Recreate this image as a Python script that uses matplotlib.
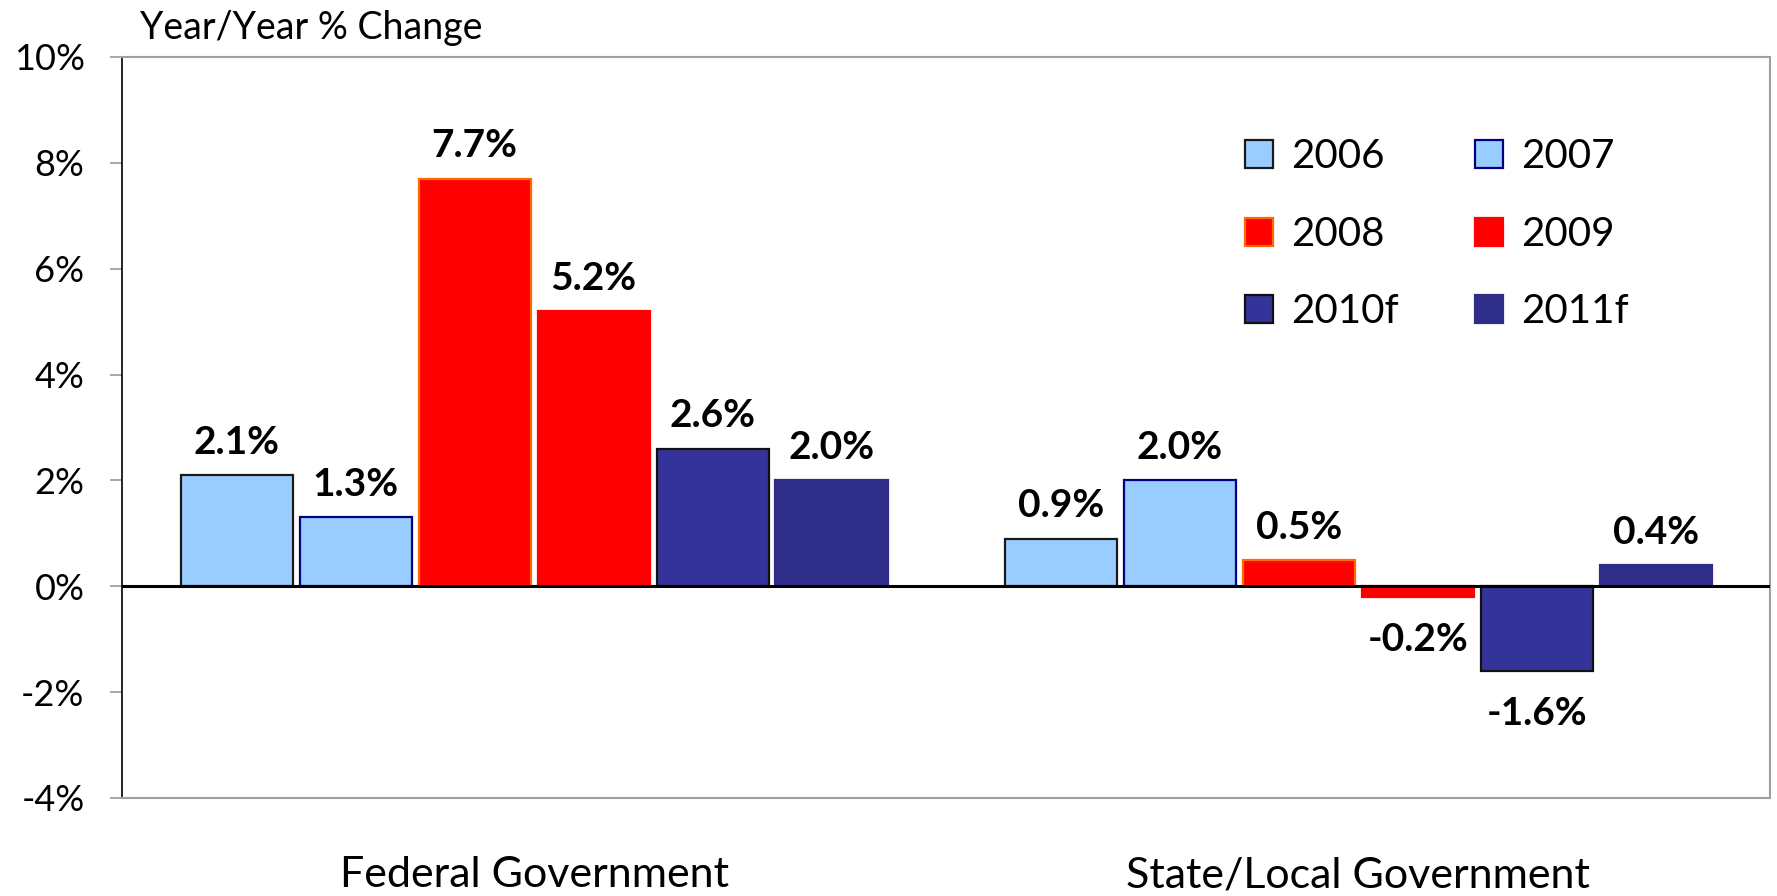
import matplotlib.pyplot as plt
import numpy as np

plt.rcParams['font.family'] = ['Lato', 'DejaVu Sans']

groups = ["Federal Government", "State/Local Government"]
years = ["2006", "2007", "2008", "2009", "2010f", "2011f"]
values = {
    "2006": [2.1, 0.9],
    "2007": [1.3, 2.0],
    "2008": [7.7, 0.5],
    "2009": [5.2, -0.2],
    "2010f": [2.6, -1.6],
    "2011f": [2.0, 0.4],
}
y_ticks = [-4, -2, 0, 2, 4, 6, 8, 10]

fills = ["#99ccff", "#99ccff", "#ff0000", "#ff0000", "#333399", "#2e2d88"]
edges = ["#1a1a1a", "#000080", "#ff6a00", "#ff0000", "#111111", "#2e2d88"]

fig = plt.figure(figsize=(17.77, 8.96), dpi=100)
ax = fig.add_axes([0.0687, 0.1094, 0.9276, 0.8270])

x = np.arange(len(groups))
slot = 0.1443
width = 0.136
handles = {}
for i, yr in enumerate(years):
    pos = x + (i - 2.5) * slot
    bars = ax.bar(pos, values[yr], width, color=fills[i], edgecolor=edges[i],
                  linewidth=1.6, label=yr, zorder=2)
    handles[yr] = bars
    for xp, v in zip(pos, values[yr]):
        off = 11 if v >= 0 else -18
        ax.annotate(f"{v:.1f}%", (xp, v), xytext=(0, off), textcoords="offset points",
                    ha="center", va="bottom" if v >= 0 else "top",
                    fontsize=28, fontweight="bold")

ax.axhline(0, color="black", lw=2.2, zorder=3)

ax.set_xlim(-0.5, 1.5)
ax.set_ylim(-4, 10)
ax.set_yticks(y_ticks)
ax.set_yticklabels([f"{t}%" for t in y_ticks], fontsize=26)
ax.set_xticks(x)
ax.set_xticklabels(groups, fontsize=31)
ax.tick_params(axis="x", length=0, pad=42)
ax.tick_params(axis="y", length=9, color="#999999", width=1.2, pad=18)

for s in ["top", "right", "bottom"]:
    ax.spines[s].set_color("#a0a0a0")
    ax.spines[s].set_linewidth(1.5)
ax.spines["left"].set_color("black")
ax.spines["left"].set_linewidth(1.2)

order = ["2006", "2008", "2010f", "2007", "2009", "2011f"]
ax.legend([handles[k] for k in order], order, ncol=2, frameon=False, fontsize=29,
          loc="upper left", bbox_to_anchor=(0.681, 0.89), borderpad=0,
          borderaxespad=0, handlelength=0.7, handleheight=0.7, handletextpad=0.45,
          columnspacing=1.9, labelspacing=1.0)

fig.text(0.079, 0.969, "Year/Year % Change", fontsize=27, va="center", ha="left")

fig.savefig("out.png", dpi=100)
